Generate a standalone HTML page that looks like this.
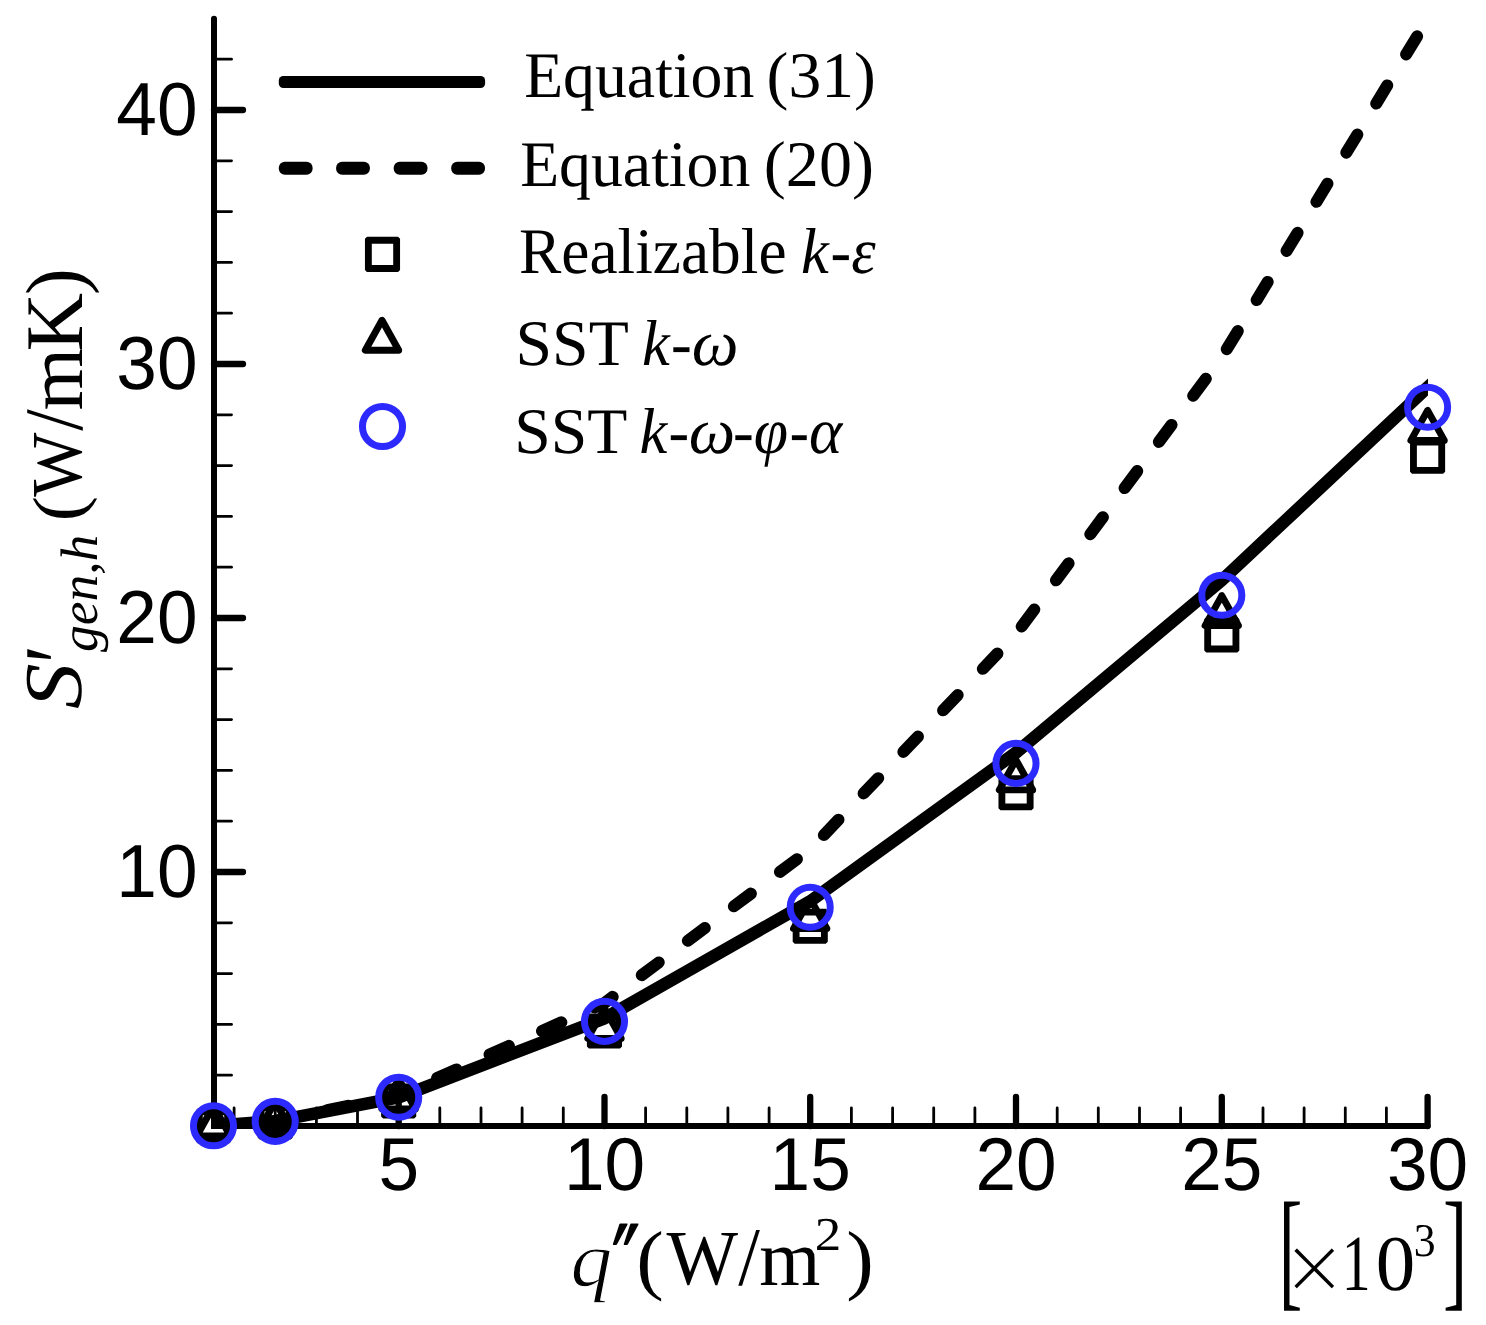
<!DOCTYPE html>
<html lang="en"><head><meta charset="utf-8"><title>Entropy generation vs heat flux</title>
<style>html,body{margin:0;padding:0;background:#fff}body{width:1486px;height:1325px;overflow:hidden}svg{display:block;text-rendering:geometricPrecision}.sans{font-family:"Liberation Sans",Arial,Helvetica,sans-serif}.serif{font-family:"Liberation Serif","Times New Roman",Times,serif}.it{font-style:italic}.b{font-weight:bold}</style></head><body>
<svg width="1486" height="1325" viewBox="0 0 1486 1325">
<rect width="1486" height="1325" fill="#fff"/>
<defs><clipPath id="cp"><rect x="214.0" y="0" width="1213.9" height="1129.0"/></clipPath></defs>
<g clip-path="url(#cp)"><polyline points="213.5,1125.7 275.2,1121.2 398.7,1097.4 604.5,1018.3 810.2,901.2 1016.0,752.6 1221.8,580.2 1427.6,387.4 1447.6,368.6" fill="none" stroke="#000" stroke-width="12.5" stroke-linejoin="round"/></g>
<g clip-path="url(#cp)"><polyline points="213.5,1125.7 275.2,1121.1 398.7,1095.3 604.5,1003.0 810.2,849.3 1016.0,634.1 1221.8,357.3 1427.6,19.1" fill="none" stroke="#000" stroke-width="12" stroke-linecap="round" stroke-linejoin="round" stroke-dasharray="21.2 36.3" stroke-dashoffset="57.39"/></g>
<g stroke="#000" stroke-linecap="round" fill="none">
<path d="M214.0 18.8V1126.0H1427.6" stroke-width="6" stroke-linejoin="miter"/>
<path d="M214.0 1075.2H231.5" stroke-width="2.8"/>
<path d="M214.0 1024.4H231.5" stroke-width="2.8"/>
<path d="M214.0 973.6H231.5" stroke-width="2.8"/>
<path d="M214.0 922.8H231.5" stroke-width="2.8"/>
<path d="M214.0 872.0H243" stroke-width="6.3"/>
<path d="M214.0 821.2H231.5" stroke-width="2.8"/>
<path d="M214.0 770.4H231.5" stroke-width="2.8"/>
<path d="M214.0 719.6H231.5" stroke-width="2.8"/>
<path d="M214.0 668.8H231.5" stroke-width="2.8"/>
<path d="M214.0 618.0H243" stroke-width="6.3"/>
<path d="M214.0 567.2H231.5" stroke-width="2.8"/>
<path d="M214.0 516.4H231.5" stroke-width="2.8"/>
<path d="M214.0 465.6H231.5" stroke-width="2.8"/>
<path d="M214.0 414.8H231.5" stroke-width="2.8"/>
<path d="M214.0 364.0H243" stroke-width="6.3"/>
<path d="M214.0 313.2H231.5" stroke-width="2.8"/>
<path d="M214.0 262.4H231.5" stroke-width="2.8"/>
<path d="M214.0 211.6H231.5" stroke-width="2.8"/>
<path d="M214.0 160.8H231.5" stroke-width="2.8"/>
<path d="M214.0 110.0H243" stroke-width="6.3"/>
<path d="M214.0 59.2H231.5" stroke-width="2.8"/>
<path d="M234.1 1126.0V1108" stroke-width="2.8"/>
<path d="M275.2 1126.0V1108" stroke-width="2.8"/>
<path d="M316.4 1126.0V1108" stroke-width="2.8"/>
<path d="M357.5 1126.0V1108" stroke-width="2.8"/>
<path d="M398.7 1126.0V1097" stroke-width="6.3"/>
<path d="M439.8 1126.0V1108" stroke-width="2.8"/>
<path d="M481.0 1126.0V1108" stroke-width="2.8"/>
<path d="M522.1 1126.0V1108" stroke-width="2.8"/>
<path d="M563.3 1126.0V1108" stroke-width="2.8"/>
<path d="M604.5 1126.0V1097" stroke-width="6.3"/>
<path d="M645.6 1126.0V1108" stroke-width="2.8"/>
<path d="M686.8 1126.0V1108" stroke-width="2.8"/>
<path d="M727.9 1126.0V1108" stroke-width="2.8"/>
<path d="M769.1 1126.0V1108" stroke-width="2.8"/>
<path d="M810.2 1126.0V1097" stroke-width="6.3"/>
<path d="M851.4 1126.0V1108" stroke-width="2.8"/>
<path d="M892.6 1126.0V1108" stroke-width="2.8"/>
<path d="M933.7 1126.0V1108" stroke-width="2.8"/>
<path d="M974.9 1126.0V1108" stroke-width="2.8"/>
<path d="M1016.0 1126.0V1097" stroke-width="6.3"/>
<path d="M1057.2 1126.0V1108" stroke-width="2.8"/>
<path d="M1098.3 1126.0V1108" stroke-width="2.8"/>
<path d="M1139.5 1126.0V1108" stroke-width="2.8"/>
<path d="M1180.6 1126.0V1108" stroke-width="2.8"/>
<path d="M1221.8 1126.0V1097" stroke-width="6.3"/>
<path d="M1263.0 1126.0V1108" stroke-width="2.8"/>
<path d="M1304.1 1126.0V1108" stroke-width="2.8"/>
<path d="M1345.3 1126.0V1108" stroke-width="2.8"/>
<path d="M1386.4 1126.0V1108" stroke-width="2.8"/>
<path d="M1427.6 1126.0V1097" stroke-width="6.3"/>
</g>
<path fill="#000" fill-rule="evenodd" d="M197.93 1108.45h31.10l2.00 2.00v31.10l-2.00 2.00h-31.10l-2.00 -2.00v-31.10ZM202.78 1115.30h21.40v21.40h-21.40Z"/>
<path fill="#000" fill-rule="evenodd" d="M259.66 1104.45h31.10l2.00 2.00v31.10l-2.00 2.00h-31.10l-2.00 -2.00v-31.10ZM264.51 1111.30h21.40v21.40h-21.40Z"/>
<path fill="#000" fill-rule="evenodd" d="M383.13 1083.45h31.10l2.00 2.00v31.10l-2.00 2.00h-31.10l-2.00 -2.00v-31.10ZM387.98 1090.30h21.40v21.40h-21.40Z"/>
<path fill="#000" fill-rule="evenodd" d="M588.91 1013.45h31.10l2.00 2.00v31.10l-2.00 2.00h-31.10l-2.00 -2.00v-31.10ZM593.76 1020.30h21.40v21.40h-21.40Z"/>
<path fill="#000" fill-rule="evenodd" d="M794.69 908.65h31.10l2.00 2.00v31.10l-2.00 2.00h-31.10l-2.00 -2.00v-31.10ZM799.54 915.50h21.40v21.40h-21.40Z"/>
<path fill="#000" fill-rule="evenodd" d="M1000.47 775.15h31.10l2.00 2.00v31.10l-2.00 2.00h-31.10l-2.00 -2.00v-31.10ZM1005.32 782.00h21.40v21.40h-21.40Z"/>
<path fill="#000" fill-rule="evenodd" d="M1206.25 617.35h31.10l2.00 2.00v31.10l-2.00 2.00h-31.10l-2.00 -2.00v-31.10ZM1211.10 624.20h21.40v21.40h-21.40Z"/>
<path fill="#000" fill-rule="evenodd" d="M1412.03 438.65h31.10l2.00 2.00v31.10l-2.00 2.00h-31.10l-2.00 -2.00v-31.10ZM1416.88 445.50h21.40v21.40h-21.40Z"/>
<path d="M213.5 1106.0L196.8 1136.0L230.2 1136.0Z" fill="none" stroke="#000" stroke-width="6.9" stroke-linejoin="round"/>
<path d="M275.2 1101.5L258.5 1131.5L291.9 1131.5Z" fill="none" stroke="#000" stroke-width="6.9" stroke-linejoin="round"/>
<path d="M398.7 1079.0L382.0 1109.0L415.4 1109.0Z" fill="none" stroke="#000" stroke-width="6.9" stroke-linejoin="round"/>
<path d="M604.5 1008.4L587.8 1038.4L621.2 1038.4Z" fill="none" stroke="#000" stroke-width="6.9" stroke-linejoin="round"/>
<path d="M810.2 898.6L793.5 928.6L826.9 928.6Z" fill="none" stroke="#000" stroke-width="6.9" stroke-linejoin="round"/>
<path d="M1016.0 759.9L999.3 789.9L1032.7 789.9Z" fill="none" stroke="#000" stroke-width="6.9" stroke-linejoin="round"/>
<path d="M1221.8 595.6L1205.1 625.6L1238.5 625.6Z" fill="none" stroke="#000" stroke-width="6.9" stroke-linejoin="round"/>
<path d="M1427.6 410.4L1410.9 440.4L1444.3 440.4Z" fill="none" stroke="#000" stroke-width="6.9" stroke-linejoin="round"/>
<circle cx="213.5" cy="1125.8" r="20.05" fill="none" stroke="#2c2aff" stroke-width="7"/>
<circle cx="275.2" cy="1121.4" r="20.05" fill="none" stroke="#2c2aff" stroke-width="7"/>
<circle cx="398.7" cy="1097.2" r="20.05" fill="none" stroke="#2c2aff" stroke-width="7"/>
<circle cx="604.5" cy="1021.4" r="20.05" fill="none" stroke="#2c2aff" stroke-width="7"/>
<circle cx="810.2" cy="907.2" r="20.05" fill="none" stroke="#2c2aff" stroke-width="7"/>
<circle cx="1016.0" cy="763.4" r="20.05" fill="none" stroke="#2c2aff" stroke-width="7"/>
<circle cx="1221.8" cy="595.2" r="20.05" fill="none" stroke="#2c2aff" stroke-width="7"/>
<circle cx="1427.6" cy="407.2" r="20.05" fill="none" stroke="#2c2aff" stroke-width="7"/>
<rect x="278.8" y="75.9" width="206.3" height="12.2" rx="4.5" fill="#000"/>
<rect x="278.8" y="161.8" width="33.8" height="13" rx="6" fill="#000"/>
<rect x="336.1" y="161.8" width="33.8" height="13" rx="6" fill="#000"/>
<rect x="393.7" y="161.8" width="33.8" height="13" rx="6" fill="#000"/>
<rect x="451.2" y="161.8" width="33.8" height="13" rx="6" fill="#000"/>
<path fill="#000" fill-rule="evenodd" d="M366.95 236.85h31.10l2.00 2.00v31.10l-2.00 2.00h-31.10l-2.00 -2.00v-31.10ZM371.80 243.70h21.40v21.40h-21.40Z"/>
<path d="M382.0 320.3L365.3 350.3L398.7 350.3Z" fill="none" stroke="#000" stroke-width="6.9" stroke-linejoin="round"/>
<circle cx="382.5" cy="426.5" r="20.05" fill="none" stroke="#2c2aff" stroke-width="7"/>
<g fill="#000">
<text class="serif" font-size="100" transform="matrix(0.6374 0 0 0.6500 524.19 97.40)">Equation</text>
<text class="serif" font-size="100" transform="matrix(0.6557 0 0 0.6500 766.58 97.40)">(31)</text>
<text class="serif" font-size="100" transform="matrix(0.6374 0 0 0.6500 520.19 186.20)">Equation</text>
<text class="serif" font-size="100" transform="matrix(0.6608 0 0 0.6500 763.86 186.20)">(20)</text>
<text class="serif" font-size="100" transform="matrix(0.6337 0 0 0.6500 519.10 272.50)">Realizable</text>
<text class="serif it" font-size="100" transform="matrix(0.6256 0 0 0.6500 800.92 272.50)">k</text>
<text class="serif" font-size="100" transform="matrix(0.6192 0 0 0.6500 830.52 272.50)">-</text>
<text class="serif it" font-size="100" transform="matrix(0.6189 0 0 0.6500 851.36 272.50)">ε</text>
<text class="serif" font-size="100" transform="matrix(0.6567 0 0 0.6500 515.60 364.80)">SST</text>
<text class="serif it" font-size="100" transform="matrix(0.6256 0 0 0.6500 642.12 364.80)">k</text>
<text class="serif" font-size="100" transform="matrix(0.6231 0 0 0.6500 671.11 364.80)">-</text>
<text class="serif it" font-size="100" transform="matrix(0.6619 0 0 0.6500 691.81 364.80)">ω</text>
<text class="serif" font-size="100" transform="matrix(0.6567 0 0 0.6500 514.20 453.10)">SST</text>
<text class="serif it" font-size="100" transform="matrix(0.6256 0 0 0.6500 639.42 453.10)">k</text>
<text class="serif" font-size="100" transform="matrix(0.6192 0 0 0.6500 668.42 453.10)">-</text>
<text class="serif it" font-size="100" transform="matrix(0.6571 0 0 0.6500 688.63 453.10)">ω</text>
<text class="serif" font-size="100" transform="matrix(0.6231 0 0 0.6500 733.01 453.10)">-</text>
<text class="serif it" font-size="100" transform="matrix(0.6200 0 0 0.6500 753.84 453.10)">φ</text>
<text class="serif" font-size="100" transform="matrix(0.5731 0 0 0.6500 789.71 453.10)">-</text>
<text class="serif it" font-size="100" transform="matrix(0.6333 0 0 0.6500 809.00 453.10)">α</text>
</g>
<g class="sans" font-size="73" fill="#000">
<text transform="translate(197.5 896.6) scale(1 1.03)" text-anchor="end">10</text>
<text transform="translate(197.5 642.6) scale(1 1.03)" text-anchor="end">20</text>
<text transform="translate(197.5 388.6) scale(1 1.03)" text-anchor="end">30</text>
<text transform="translate(197.5 134.6) scale(1 1.03)" text-anchor="end">40</text>
<text transform="translate(398.7 1189.9) scale(1 1.025)" text-anchor="middle">5</text>
<text transform="translate(604.5 1189.9) scale(1 1.025)" text-anchor="middle">10</text>
<text transform="translate(810.2 1189.9) scale(1 1.025)" text-anchor="middle">15</text>
<text transform="translate(1016.0 1189.9) scale(1 1.025)" text-anchor="middle">20</text>
<text transform="translate(1221.8 1189.9) scale(1 1.025)" text-anchor="middle">25</text>
<text transform="translate(1427.6 1189.9) scale(1 1.025)" text-anchor="middle">30</text>
</g>
<g fill="#000" opacity="0.999">
<text stroke="#fff" stroke-width="1.4" class="serif it" font-size="100" transform="matrix(0.8333 0.0002 0 0.7838 570.50 1286.04)">q</text>
<text class="serif" font-size="100" transform="matrix(0.8269 0.0002 0 0.7789 636.29 1284.54)">(</text>
<text class="serif" font-size="100" transform="matrix(0.7574 0.0002 0 0.7776 666.60 1284.34)">W</text>
<text class="serif" font-size="100" transform="matrix(0.7786 0.0002 0 0.8348 738.20 1285.07)">/</text>
<text class="serif" font-size="100" transform="matrix(0.7865 0.0002 0 0.7936 759.33 1284.90)">m</text>
<text class="serif" font-size="100" transform="matrix(0.5300 0.0002 0 0.4723 814.78 1249.60)">2</text>
<text class="serif" font-size="100" transform="matrix(0.8269 0.0002 0 0.7789 846.22 1284.54)">)</text>
<text stroke="#fff" stroke-width="1.6" class="serif" font-size="100" transform="matrix(1.0375 0.0002 0 1.0400 1284.90 1303.32)">×</text>
<text class="serif" font-size="100" transform="matrix(0.5771 0.0002 0 0.7970 1341.81 1290.00)">1</text>
<text class="serif" font-size="100" transform="matrix(0.7905 0.0002 0 0.7910 1375.64 1289.52)">0</text>
<text class="serif" font-size="100" transform="matrix(0.4366 0.0002 0 0.4697 1413.82 1255.63)">3</text>
<text class="serif" font-size="100" transform="matrix(0.7087 0.0002 0 1.3207 1278.74 1292.73)">[</text>
<text class="serif" font-size="100" transform="matrix(0.7273 0.0002 0 1.3207 1442.99 1292.73)">]</text>
<text class="serif it b" font-size="100" stroke="#000" stroke-width="3.0" stroke-linejoin="round" transform="matrix(0.5348 0 -0.2120 0.8154 599.45 1278.02)">″</text>
<text class="serif it" font-size="100" transform="translate(81.26 708.91) rotate(-90) scale(0.9149 0.8209)">S</text>
<text class="serif it" font-size="100" transform="translate(93.18 668.45) rotate(-90) scale(0.8500 1.0043)">′</text>
<text class="serif it" font-size="100" transform="translate(97.22 651.90) rotate(-90) scale(0.5344 0.5278)">gen,h</text>
<text class="serif" font-size="100" transform="translate(82.19 521.32) rotate(-90) scale(0.7538 0.7100)">(</text>
<text class="serif" font-size="100" transform="translate(81.46 496.70) rotate(-90) scale(0.6798 0.7179)">W</text>
<text class="serif" font-size="100" transform="translate(82.07 430.70) rotate(-90) scale(0.7750 0.8318)">/</text>
<text class="serif" font-size="100" transform="translate(81.90 410.41) rotate(-90) scale(0.8041 0.7957)">m</text>
<text class="serif" font-size="100" transform="translate(81.90 351.22) rotate(-90) scale(0.8074 0.8185)">K</text>
<text class="serif" font-size="100" transform="translate(81.84 295.11) rotate(-90) scale(0.8038 0.8122)">)</text>
</g>
</svg></body></html>
